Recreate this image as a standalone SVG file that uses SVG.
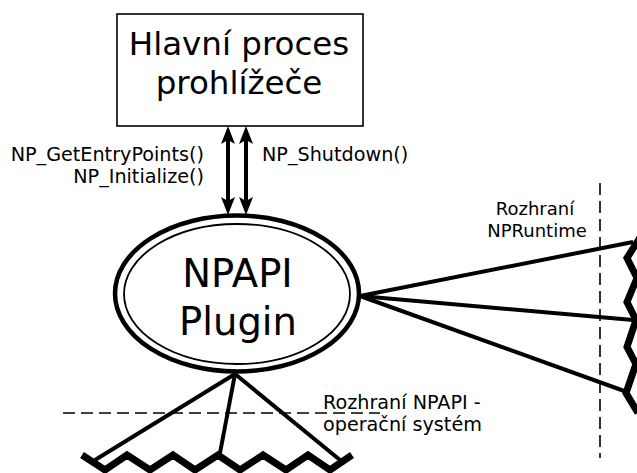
<svg xmlns="http://www.w3.org/2000/svg" width="637" height="473" viewBox="0 0 637 473">
<style>
text{font-family:"DejaVu Sans","Liberation Sans",sans-serif;fill:#000}
.big{font-size:32.5px;text-anchor:middle}
.node{font-size:38.5px;text-anchor:middle}
.lbl{font-size:19.2px}
.rl{font-size:18px;text-anchor:middle}
.conn{stroke:#000;stroke-width:4;fill:none}
.zig{stroke:#000;stroke-width:7;fill:none;stroke-linejoin:miter}
.dash{stroke:#000;stroke-width:1.6;stroke-dasharray:12 6;fill:none}
</style>
<defs>
<marker id="ah" viewBox="0 0 18 14" refX="8" refY="7" markerWidth="18" markerHeight="14" markerUnits="userSpaceOnUse" orient="auto-start-reverse">
<path d="M0,0 L18,7 L0,14 L4,7 z" fill="#000"/>
</marker>
</defs>
<rect width="637" height="473" fill="#fff"/>
<g id="browser">
<rect x="117" y="14" width="246" height="112" fill="#fff" stroke="#000" stroke-width="1.6"/>
<text class="big" x="239" y="55">Hlavní proces</text>
<text class="big" x="239" y="94">prohlížeče</text>
</g>
<g id="plugin">
<ellipse cx="237" cy="293.5" rx="122" ry="78" fill="#fff" stroke="#000" stroke-width="4.5"/>
<ellipse cx="237" cy="294" rx="113" ry="70" fill="none" stroke="#000" stroke-width="1.8"/>
<text class="node" x="237.5" y="287">NPAPI</text>
<text class="node" x="238" y="335">Plugin</text>
</g>
<g id="npruntime">
<path class="zig" d="M641,236 L627,258 L637,278 L627,302 L636,320 L627,347 L636,364 L626,393 L638,413"/>
</g>
<g id="os">
<path class="zig" d="M82,455 L105,470 L127,455 L150,470 L173,455 L195,470 L218,455 L240,470 L263,455 L286,470 L308,455 L330,470 L352,455"/>
</g>
<g id="connectors">
<line class="conn" x1="228" y1="136" x2="228" y2="205" marker-start="url(#ah)" marker-end="url(#ah)"/>
<line class="conn" x1="246" y1="136" x2="246" y2="205" marker-start="url(#ah)" marker-end="url(#ah)"/>
<line class="conn" x1="360" y1="296" x2="633" y2="242"/>
<line class="conn" x1="360" y1="296" x2="633" y2="320"/>
<line class="conn" x1="360" y1="296" x2="627" y2="392"/>
<line class="conn" x1="235" y1="374" x2="95" y2="460"/>
<line class="conn" x1="235" y1="374" x2="220" y2="453"/>
<line class="conn" x1="235" y1="374" x2="340" y2="460"/>
</g>
<g id="boundaries">
<line class="dash" x1="600" y1="183" x2="600" y2="458"/>
<line class="dash" x1="63" y1="413" x2="380" y2="413"/>
</g>
<g id="labels">
<text class="lbl" x="204" y="161" text-anchor="end">NP_GetEntryPoints()</text>
<text class="lbl" x="204" y="183" text-anchor="end">NP_Initialize()</text>
<text class="lbl" x="262" y="161">NP_Shutdown()</text>
<text class="rl" x="535" y="215">Rozhraní</text>
<text class="rl" x="537" y="237">NPRuntime</text>
<text class="lbl" x="323" y="409">Rozhraní NPAPI -</text>
<text class="lbl" x="323" y="431">operační systém</text>
</g>
</svg>
